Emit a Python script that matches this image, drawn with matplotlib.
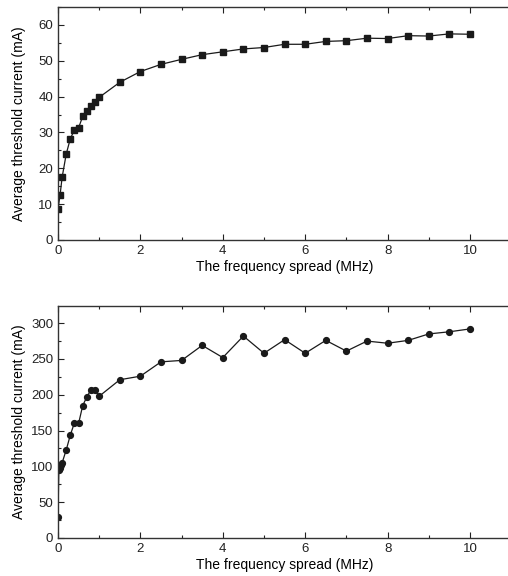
#!/usr/bin/env python3
"""Average threshold current vs frequency spread, two panels."""

import matplotlib

matplotlib.use("Agg")
import matplotlib.pyplot as plt
from matplotlib.ticker import MultipleLocator

plt.rcParams["font.family"] = ["Liberation Sans", "DejaVu Sans"]

# top panel (squares)
spread_top = [0, 0.05, 0.1, 0.2, 0.3, 0.4, 0.5, 0.6, 0.7, 0.8, 0.9, 1.0,
              1.5, 2, 2.5, 3, 3.5, 4, 4.5, 5, 5.5, 6, 6.5, 7, 7.5, 8, 8.5, 9, 9.5, 10]
current_top = [8.7, 12.5, 17.5, 24.0, 28.3, 30.7, 31.3, 34.5, 36.0, 37.5, 38.5, 39.8,
               44.0, 47.0, 49.0, 50.4, 51.7, 52.5, 53.3, 53.7, 54.6, 54.6, 55.4, 55.6,
               56.3, 56.2, 57.0, 56.9, 57.5, 57.4]

# bottom panel (circles)
spread_bot = [0, 0.02, 0.05, 0.08, 0.1, 0.2, 0.3, 0.4, 0.5, 0.6, 0.7, 0.8, 0.9, 1.0,
              1.5, 2, 2.5, 3, 3.5, 4, 4.5, 5, 5.5, 6, 6.5, 7, 7.5, 8, 8.5, 9, 9.5, 10]
current_bot = [30, 95, 98, 102, 105, 123, 144, 161, 160, 185, 197, 207, 207, 198,
               221, 226, 246, 248, 269, 252, 282, 258, 277, 258, 276, 261, 275, 272,
               276, 285, 288, 292]


def style_axis(ax, ymax, ymajor, yminor):
    ax.set_xlim(0, 11)
    ax.set_ylim(0, ymax)
    ax.xaxis.set_major_locator(MultipleLocator(2))
    ax.xaxis.set_minor_locator(MultipleLocator(1))
    ax.yaxis.set_major_locator(MultipleLocator(ymajor))
    ax.yaxis.set_minor_locator(MultipleLocator(yminor))
    ax.tick_params(which="both", direction="in", top=True, right=False,
                   labelsize=9.5, colors="#222222", width=0.8)
    ax.tick_params(which="major", length=4.5)
    ax.tick_params(which="minor", length=2.5)
    for sp in ax.spines.values():
        sp.set_linewidth(1.0)
        sp.set_color("#333333")
    ax.spines["right"].set_visible(False)
    ax.set_xlabel("The frequency spread (MHz)", fontsize=10, labelpad=2)
    ax.set_ylabel("Average threshold current (mA)", fontsize=10)
    ax.yaxis.set_label_coords(-0.07, 0.5)


def main():
    W, H = 508, 576
    fig = plt.figure(figsize=(W / 100, H / 100), dpi=100)
    left = 58 / W
    width = 41.2 * 11 / W

    ax1 = fig.add_axes([left, (H - 240) / H, width, 233 / H])
    ax1.plot(spread_top, current_top, color="#1a1a1a", lw=0.9, marker="s", ms=4.2)
    style_axis(ax1, 65, 10, 5)

    ax2 = fig.add_axes([left, (H - 538) / H, width, 232 / H])
    ax2.plot(spread_bot, current_bot, color="#1a1a1a", lw=0.9, marker="o", ms=4.2)
    style_axis(ax2, 324, 50, 25)

    fig.savefig("out.png", dpi=100)
    plt.close(fig)


if __name__ == "__main__":
    main()
